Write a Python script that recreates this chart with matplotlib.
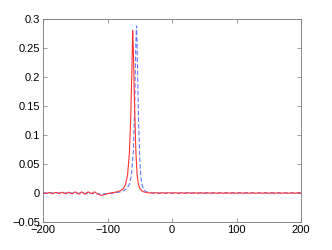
import matplotlib
matplotlib.use('Agg')
import matplotlib.pyplot as plt

plt.rcParams['font.family'] = ['Liberation Sans', 'DejaVu Sans']

# red solid curve
red_x = [-200, -195, -190, -185, -180, -175, -170, -165, -160, -155, -150, -145,
         -140, -135, -130, -125, -120, -115, -110, -105, -100, -95, -90, -85,
         -80, -75, -72, -69, -66, -64, -62, -61, -60, -58, -56, -54, -52, -50,
         -47, -44, -40, -35, -30, -25, -20, -15, -10, -5, 0, 5, 10, 15, 20, 25,
         30, 35, 40, 45, 50, 55, 60, 65, 70, 75, 80, 85, 90, 95, 100, 105, 110,
         115, 120, 125, 130, 135, 140, 145, 150, 155, 160, 165, 170, 175, 180,
         185, 190, 195, 200]
red_y = [0.001, -0.001, 0.001, -0.001, 0.001, -0.001, 0.0015, -0.0015, 0.0015,
         -0.0015, 0.002, -0.002, 0.002, -0.002, 0.002, -0.001, 0.002, -0.002,
         -0.004, -0.003, -0.001, 0.0, 0.001, 0.002, 0.004, 0.008, 0.015, 0.03,
         0.07, 0.13, 0.22, 0.28, 0.25, 0.15, 0.07, 0.03, 0.015, 0.008, 0.004,
         0.002, 0.001, 0.0, 0.0, 0.0005, -0.0005, 0.0005, -0.0005, 0.0005,
         -0.0005, 0.0005, -0.0005, 0.0005, -0.0005, 0.0005, -0.0005, 0.0005,
         -0.0005, 0.0005, -0.0005, 0.0005, -0.0005, 0.0005, -0.0005, 0.0005,
         -0.0005, 0.0005, -0.0005, 0.0005, -0.0005, 0.0005, -0.0005, 0.0005,
         -0.0005, 0.0005, -0.0005, 0.0005, -0.0005, 0.0005, -0.0005, 0.0005,
         -0.0005, 0.0005, -0.0005, 0.0005, -0.0005, 0.0005, -0.0005, 0.0005,
         0.0]

# blue dashed curve
blue_x = [-200, -180, -160, -140, -120, -110, -100, -90, -85, -80, -75, -70,
          -66, -63, -60, -58, -56, -55, -54, -52, -50, -48, -46, -43, -40, -35,
          -30, -20, 0, 50, 100, 150, 200]
blue_y = [0.0, 0.0, 0.0, -0.0005, -0.001, -0.002, -0.001, 0.0, 0.001, 0.002,
          0.004, 0.008, 0.015, 0.03, 0.07, 0.14, 0.26, 0.288, 0.25, 0.13, 0.06,
          0.025, 0.012, 0.005, 0.002, 0.001, 0.0, 0.0, 0.0, 0.0, 0.0, 0.0, 0.0]

x_ticks = [-200, -100, 0, 100, 200]
x_labels = ['\u2212200', '\u2212100', '0', '100', '200']
y_ticks = [-0.05, 0, 0.05, 0.1, 0.15, 0.2, 0.25, 0.3]
y_labels = ['\u22120.05', '0', '0.05', '0.1', '0.15', '0.2', '0.25', '0.3']

fig = plt.figure(figsize=(3.32, 2.5), dpi=100)
ax = fig.add_axes([43 / 332, 28 / 250, 258 / 332, 203 / 250])

ax.plot(blue_x, blue_y, color='#6677ff', linestyle='--', linewidth=0.8,
        dashes=(4, 2))
ax.plot(red_x, red_y, color='#ff3333', linewidth=0.8)

ax.set_xlim(-200, 200)
ax.set_ylim(-0.05, 0.3)
ax.set_xticks(x_ticks)
ax.set_xticklabels(x_labels)
ax.set_yticks(y_ticks)
ax.set_yticklabels(y_labels)

ax.tick_params(direction='in', length=3, width=0.5, color='#777777',
               labelsize=8, top=True, right=True, pad=2)
for s in ax.spines.values():
    s.set_color('#777777')
    s.set_linewidth(0.6)

fig.savefig('out.png', dpi=100)
